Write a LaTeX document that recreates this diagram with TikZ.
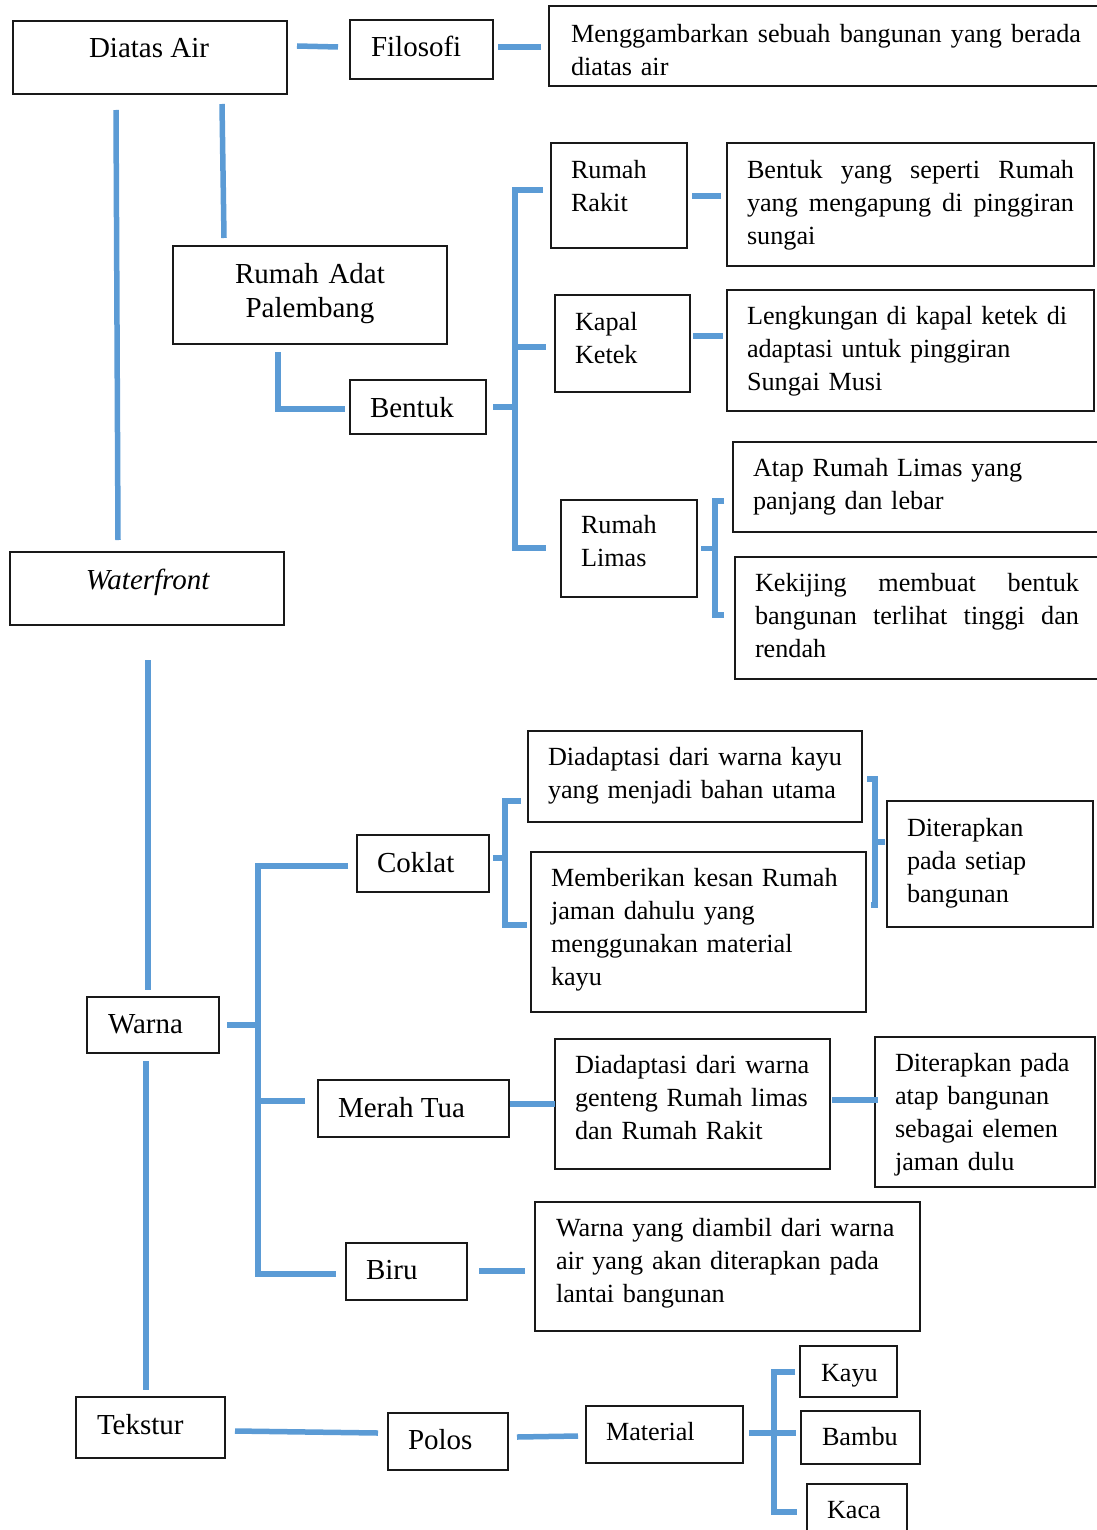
\documentclass[tikz,border=0pt]{standalone}
\usepackage{fontspec}
\setmainfont{Liberation Serif}
\usetikzlibrary{calc}
\definecolor{lineblue}{RGB}{91,155,213}
\newcommand\bx[5]{\node[box,minimum width={#4-#2},minimum height={#5-#3}] (#1) at ({(#2+#4)/2},{(#3+#5)/2}) {};}
\newcommand\jline[2]{\leavevmode\hbox to #1{#2}}
\begin{document}
\begin{tikzpicture}[x=1pt,y=-1pt,
  box/.style={draw=black!90,line width=1.3pt,inner sep=0pt,outer sep=0pt,fill=none},
  conn/.style={draw=lineblue,line width=5.5pt},
  lbig/.style={inner sep=0pt,outer sep=0pt,font=\fontsize{29}{34}\selectfont},
  lsm/.style={inner sep=0pt,outer sep=0pt,font=\fontsize{26.2}{33}\selectfont,text width=480pt,align=left},
]
\useasboundingbox (0,0) rectangle (1096,1530);
% ---------- boxes ----------
\bx{dia}{13}{21}{287}{94}
\bx{fil}{350}{20}{493}{79}
\bx{men}{549}{6}{1104}{86}
\bx{adat}{173}{246}{447}{344}
\bx{ben}{350}{380}{486}{434}
\bx{rak}{551}{143}{687}{248}
\bx{rakd}{727}{143}{1094}{266}
\bx{kap}{555}{295}{690}{392}
\bx{kapd}{727}{290}{1094}{411}
\bx{lim}{561}{500}{697}{597}
\bx{atap}{733}{442}{1104}{532}
\bx{kek}{735}{557}{1104}{679}
\bx{wf}{10}{552}{284}{625}
\bx{war}{87}{997}{219}{1053}
\bx{cok}{357}{835}{489}{892}
\bx{cokA}{528}{731}{862}{822}
\bx{cokB}{531}{852}{866}{1012}
\bx{cokC}{887}{801}{1093}{927}
\bx{mer}{318}{1080}{509}{1137}
\bx{merA}{555}{1039}{830}{1169}
\bx{merB}{875}{1037}{1095}{1187}
\bx{bir}{346}{1243}{467}{1300}
\bx{birA}{535}{1202}{920}{1331}
\bx{tek}{76}{1397}{225}{1458}
\bx{pol}{388}{1413}{508}{1470}
\bx{mat}{586}{1406}{743}{1463}
\bx{kay}{800}{1346}{897}{1397}
\bx{bam}{801}{1411}{920}{1464}
\bx{kac}{807}{1484}{907}{1540}
% ---------- texts ----------
\node[lbig,anchor=base] (tdia) at (149,57.5) {Diatas Air};
\node[lbig,anchor=base west] (tfil) at (371,57) {Filosofi};
\node[lsm,anchor=base west,text width=540pt] (tmen) at (571,42.5) {\jline{510pt}{Menggambarkan\hfill sebuah\hfill bangunan\hfill yang\hfill berada}\\diatas air};
\node[lbig,anchor=base,text width=260pt,align=center] (tadat) at (310,283) {Rumah Adat\\Palembang};
\node[lbig,anchor=base west] (tben) at (370,417) {Bentuk};
\node[lsm,anchor=base west,text width=120pt] (trak) at (571,178.5) {Rumah\\Rakit};
\node[lsm,anchor=base west,text width=340pt] (trakd) at (747,178.5) {\jline{327pt}{Bentuk\hfill yang\hfill seperti\hfill Rumah}\\\jline{327pt}{yang\hfill mengapung\hfill di\hfill pinggiran}\\sungai};
\node[lsm,anchor=base west,text width=120pt] (tkap) at (575,330.5) {Kapal\\Ketek};
\node[lsm,anchor=base west,text width=340pt] (tkapd) at (747,324.5) {Lengkungan di kapal ketek di\\adaptasi untuk pinggiran\\Sungai Musi};
\node[lsm,anchor=base west,text width=120pt] (tlim) at (581,533.5) {Rumah\\Limas};
\node[lsm,anchor=base west,text width=340pt] (tatap) at (753,476.5) {Atap Rumah Limas yang\\panjang dan lebar};
\node[lsm,anchor=base west,text width=340pt] (tkek) at (755,591) {\jline{324pt}{Kekijing\hfill membuat\hfill bentuk}\\\jline{324pt}{bangunan\hfill terlihat\hfill tinggi\hfill dan}\\rendah};
\node[lbig,anchor=base] (twf) at (148,589.5) {\textit{Waterfront}};
\node[lbig,anchor=base west] (tcok) at (377,872) {Coklat};
\node[lsm,anchor=base west,text width=330pt] (tcokA) at (548,765.5) {Diadaptasi dari warna kayu\\yang menjadi bahan utama};
\node[lsm,anchor=base west,text width=330pt] (tcokB) at (551,886) {Memberikan kesan Rumah\\jaman dahulu yang\\menggunakan material\\kayu};
\node[lsm,anchor=base west,text width=190pt] (tcokC) at (907,836.5) {Diterapkan\\pada setiap\\bangunan};
\node[lbig,anchor=base west] (twar) at (108,1033) {Warna};
\node[lbig,anchor=base west] (tmer) at (338,1117) {Merah Tua};
\node[lsm,anchor=base west,text width=270pt] (tmerA) at (575,1073) {Diadaptasi dari warna\\genteng Rumah limas\\dan Rumah Rakit};
\node[lsm,anchor=base west,text width=200pt] (tmerB) at (895,1071) {Diterapkan pada\\atap bangunan\\sebagai elemen\\jaman dulu};
\node[lbig,anchor=base west] (tbir) at (366,1279.5) {Biru};
\node[lsm,anchor=base west,text width=380pt] (tbirA) at (556,1236.5) {Warna yang diambil dari warna\\air yang akan diterapkan pada\\lantai bangunan};
\node[lbig,anchor=base west] (ttek) at (97,1434) {Tekstur};
\node[lbig,anchor=base west] (tpol) at (408,1449.5) {Polos};
\node[lsm,anchor=base west,text width=140pt] (tmat) at (606,1440.5) {Material};
\node[lsm,anchor=base west,text width=90pt] (tkay) at (821,1381) {Kayu};
\node[lsm,anchor=base west,text width=100pt] (tbam) at (822,1445.5) {Bambu};
\node[lsm,anchor=base west,text width=90pt] (tkac) at (827,1518.5) {Kaca};
% ---------- connectors ----------
% top row
\draw[conn] ([shift={(10,-11.5)}]dia.east) -- ([shift={(-12,-2.5)}]fil.west);
\draw[conn] ([shift={(5,-2.5)}]fil.east) -- ([shift={(-8,1)}]men.west);
% verticals on the left
\draw[conn] ([shift={(-34,16)}]dia.south) -- ([shift={(-29,-12)}]wf.north);
\draw[conn] ([shift={(72,10)}]dia.south) -- ([shift={(-86,-8)}]adat.north);
\draw[conn] ([shift={(1,35)}]wf.south) -- ([shift={(-5,-7)}]war.north);
\draw[conn] ([shift={(-7,8)}]war.south) -- ([shift={(-4.5,-7)}]tek.north);
% Rumah Adat -> Bentuk
\draw[conn] ([shift={(-32,8)}]adat.south) |- ([shift={(-5,2)}]ben.west);
% Bentuk bracket
\coordinate (bb) at ([shift={(29,0)}]ben.east);
\coordinate (bA) at ([shift={(-8,-5.5)}]rak.west);
\coordinate (bM) at ([shift={(-9,3.5)}]kap.west);
\coordinate (bC) at ([shift={(-15,-0.5)}]lim.west);
\draw[conn] ([shift={(7,0)}]ben.east) -- (bb);
\draw[conn] (bA) -| (bb) |- (bC);
\draw[conn] (bb |- bM) -- (bM);
% Rakit / Ketek descriptions
\draw[conn] ([shift={(5,0.5)}]rak.east) -- ([shift={(-6,-8.5)}]rakd.west);
\draw[conn] ([shift={(3,-7.5)}]kap.east) -- ([shift={(-4,-14.5)}]kapd.west);
% Limas bracket
\coordinate (lb) at ([shift={(18,0)}]lim.east);
\coordinate (lA) at ([shift={(-9,14)}]atap.west);
\coordinate (lB) at ([shift={(-11,-3)}]kek.west);
\draw[conn] ([shift={(4,0)}]lim.east) -- (lb);
\draw[conn] (lA) -| (lb) |- (lB);
% Warna bracket
\coordinate (wb) at ([shift={(39,0)}]war.east);
\coordinate (wA) at ([shift={(-9,2.5)}]cok.west);
\coordinate (wM) at ([shift={(-13,-7.5)}]mer.west);
\coordinate (wC) at ([shift={(-10,2.5)}]bir.west);
\draw[conn] ([shift={(8,0)}]war.east) -- (wb);
\draw[conn] (wA) -| (wb) |- (wC);
\draw[conn] (wb |- wM) -- (wM);
% Coklat bracket
\coordinate (cb) at ([shift={(16,-5.5)}]cok.east);
\coordinate (cA) at ([shift={(-7,24.5)}]cokA.west);
\coordinate (cB) at ([shift={(-4,-7)}]cokB.west);
\draw[conn] ([shift={(4,-5.5)}]cok.east) -- (cb);
\draw[conn] (cA) -| (cb) |- (cB);
% Diterapkan bracket
\coordinate (db) at ([shift={(-12,-22)}]cokC.west);
\coordinate (dA) at ([shift={(5,2.5)}]cokA.east);
\coordinate (dB) at ([shift={(5,-27)}]cokB.east);
\draw[conn] (dA) -| (db) |- (dB);
\draw[conn] (db) -- ([shift={(-2,-22)}]cokC.west);
% Merah Tua chain
\draw[conn] ([shift={(1,-4.5)}]mer.east) -- (merA.west);
\draw[conn] ([shift={(2,-4)}]merA.east) -- ([shift={(3,-12)}]merB.west);
% Biru
\draw[conn] ([shift={(12,-0.5)}]bir.east) -- ([shift={(-10,4.5)}]birA.west);
% Tekstur chain
\draw[conn] ([shift={(10,3.5)}]tek.east) -- ([shift={(-10,-8.5)}]pol.west);
\draw[conn] ([shift={(9,-4.5)}]pol.east) -- ([shift={(-8,1.5)}]mat.west);
% Material bracket
\coordinate (mb) at ([shift={(31,-1.5)}]mat.east);
\coordinate (mK) at ([shift={(-5,0.5)}]kay.west);
\coordinate (mC) at ([shift={(-10,0)}]kac.west);
\draw[conn] ([shift={(6,-1.5)}]mat.east) -- ([shift={(-5,-4.5)}]bam.west);
\draw[conn] (mK) -| (mb) |- (mC);
\end{tikzpicture}
\end{document}
